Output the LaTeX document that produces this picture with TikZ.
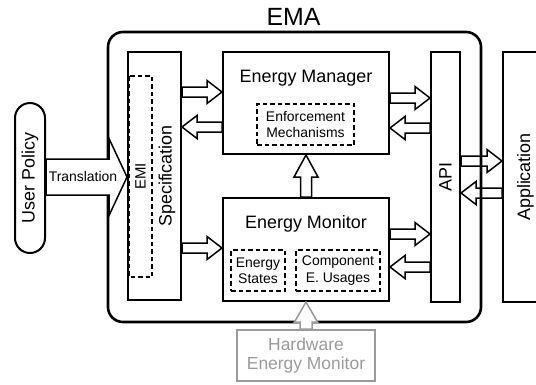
\documentclass[tikz,border=0pt]{standalone}
\usepackage{fontspec}
\setmainfont{Liberation Sans}
\usepackage{tikz}
\usepackage{xcolor}
\usetikzlibrary{calc}
\definecolor{hwgray}{RGB}{155,155,155}

\begin{document}
\begin{tikzpicture}[x=1bp, y=-1bp,
    box/.style={draw, line width=2bp, inner sep=0pt},
    dbox/.style={draw, line width=2bp, dash pattern=on 4.5bp off 3bp, inner sep=0pt, align=center, font=\fontsize{14}{16.5}\selectfont},
    big/.style={font=\fontsize{18}{21}\selectfont},
    fat/.style n args={3}{draw, line width=1.5bp, to path={
        ($(\tikztostart)!#1!90:(\tikztotarget)$)
        -- ($(\tikztotarget)!#3!(\tikztostart)!#1!90:(\tikztotarget)$)
        -- ($(\tikztotarget)!#3!(\tikztostart)!#2!90:(\tikztotarget)$)
        -- (\tikztotarget)
        -- ($(\tikztotarget)!#3!(\tikztostart)!#2!-90:(\tikztotarget)$)
        -- ($(\tikztotarget)!#3!(\tikztostart)!#1!-90:(\tikztotarget)$)
        -- ($(\tikztostart)!#1!-90:(\tikztotarget)$) -- cycle}},
    flow/.style={fat={5bp}{11.5bp}{15bp}}]
    \useasboundingbox (0,0) rectangle (536,384);
    \clip (0,0) rectangle (536,384);

    \node[draw, line width=2.6bp, rounded corners=15bp, minimum width=373bp, minimum height=290bp] (ema) at (294.5,177) {};
    \node[font=\fontsize{25}{28}\selectfont] (ematitle) at (293.5,17) {EMA};

    \node[box, minimum width=53bp, minimum height=248bp] (spec) at (154.5,176) {};
    \node[dbox, rotate=90, minimum width=201bp, minimum height=23bp, font=\fontsize{15}{17}\selectfont] (emi) at (140.5,176.5) {EMI};
    \node[big, rotate=90] (spectitle) at (167,176) {Specification};

    \node[box, minimum width=166bp, minimum height=102bp] (mgr) at (306,103) {};
    \node[big] (mgrtitle) at (306,78) {Energy Manager};
    \node[dbox, minimum width=97bp, minimum height=41bp] (enf) at (305.5,124.5) {Enforcement\\Mechanisms};

    \node[box, minimum width=166bp, minimum height=103bp] (mon) at (306,249.5) {};
    \node[big] (montitle) at (306,224) {Energy Monitor};
    \node[dbox, minimum width=54bp, minimum height=41bp] (states) at (258,270.5) {Energy\\States};
    \node[dbox, minimum width=84bp, minimum height=41bp] (usage) at (338,270.5) {Component\\E. Usages};

    \node[box, big, rotate=90, minimum width=250bp, minimum height=29bp] (api) at (445.5,177) {API};
    \node[box, big, rotate=90, minimum width=250bp, minimum height=45bp] (app) at (525.5,177) {Application};
    \node[box, big, rotate=90, rounded corners=15bp, minimum width=150bp, minimum height=30bp] (user) at (30,178) {User Policy};
    \node[box, draw=hwgray, text=hwgray, align=center, minimum width=138bp, minimum height=51bp, font=\fontsize{17.5}{20}\selectfont] (hw) at (306,355.5) {Hardware\\Energy Monitor};

    \draw[fat={18bp}{38.5bp}{18bp}, fill=white] (user.south |- 0,177) to (spec.west |- 0,177);
    \node[font=\fontsize{14}{16}\selectfont] (transl) at (83,177) {Translation};

    \draw[flow] (spec.east |- 0,92) to (mgr.west |- 0,92);
    \draw[flow] (mgr.west |- 0,127) to (spec.east |- 0,127);
    \draw[flow] (mgr.east |- 0,98) to (api.north |- 0,98);
    \draw[flow] (api.north |- 0,128) to (mgr.east |- 0,128);
    \draw[flow] (spec.east |- 0,248) to (mon.west |- 0,248);
    \draw[flow] (mon.east |- 0,234) to (api.north |- 0,234);
    \draw[flow] (api.north |- 0,267) to (mon.east |- 0,267);
    \draw[fat={5.5bp}{12bp}{22bp}] (mon.north) to (mgr.south);
    \draw[flow] (api.south |- 0,161) to (app.north |- 0,161);
    \draw[flow] (app.north |- 0,193) to (api.south |- 0,193);
    \draw[fat={6bp}{11.5bp}{20bp}, draw=hwgray, fill=white] (hw.north) to (mon.south);
\end{tikzpicture}
\end{document}
